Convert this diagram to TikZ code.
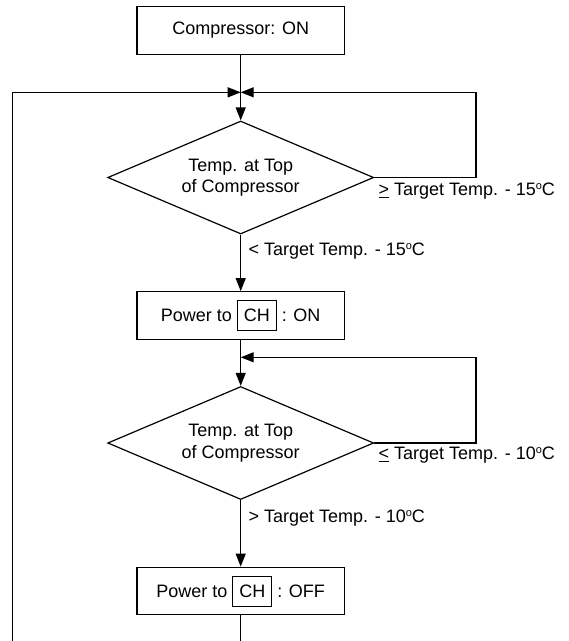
\documentclass[tikz,border=0pt]{standalone}
\usepackage{fontspec}
\setmainfont{Liberation Sans}
\usetikzlibrary{shapes.geometric,arrows.meta}
\newcommand{\chbox}{{\setlength\fboxsep{0pt}\setlength\fboxrule{0.9pt}\fbox{\rule[-8.25pt]{0pt}{29pt}\hspace{6pt}CH\hspace{6pt}}}}
\newcommand{\degc}{\raisebox{0.62ex}{\fontsize{11}{11}\selectfont o}C}
\begin{document}
\begin{tikzpicture}[x=1pt,y=-1pt, line width=1.2pt,
  font=\fontsize{18}{21.5}\selectfont,
  proc/.style={draw, rectangle, minimum width=207.6pt, minimum height=47.6pt, inner sep=0pt},
  decision/.style={draw, diamond, aspect=2.35, minimum width=266pt, minimum height=113pt, inner sep=0pt, align=center},
  lbl/.style={anchor=base west, inner sep=0pt},
  arr/.style={-{Triangle[length=13pt,width=10pt]}}
]
\useasboundingbox (0,0) rectangle (569,641);
\node[proc] (comp) at (240.7,30.5) {Compressor: ON};
\node[decision] (dec1) at (240.7,177.5) {Temp. at Top\\of Compressor};
\node[proc] (pon) at (240.7,315.5) {Power to \chbox{} : ON};
\node[decision] (dec2) at (240.7,443) {Temp. at Top\\of Compressor};
\node[proc] (poff) at (240.7,591) {Power to \chbox{} : OFF};

\coordinate (j1) at (240.7,92.3);
\coordinate (j2) at (240.7,357.3);
\coordinate (L1) at (12.7,92.3);
\coordinate (L0) at (12.7,641);
\coordinate (R1) at (476,92.3);
\coordinate (R2) at (476,357.3);

\draw[arr] (comp.south) -- (dec1.north);
\draw[arr] (L0) -- (L1) -- (j1);
\draw[arr] (dec1.east) -- (dec1.east -| R1) -- (R1) -- (j1);
\draw[arr] (dec1.south) -- (pon.north);
\draw[arr] (pon.south) -- (dec2.north);
\draw[arr] (dec2.east) -- (dec2.east -| R2) -- (R2) -- (j2);
\draw[arr] (dec2.south) -- (poff.north);
\draw (poff.south) -- (poff.south |- L0);

\node[lbl] (l1) at (378,195.5) {\underline{>} Target Temp. - 15\degc};
\node[lbl] (l2) at (248,255.5) {< Target Temp. - 15\degc};
\node[lbl] (l3) at (378,459.5) {\underline{<} Target Temp. - 10\degc};
\node[lbl] (l4) at (248,522.3) {> Target Temp. - 10\degc};
\end{tikzpicture}
\end{document}
